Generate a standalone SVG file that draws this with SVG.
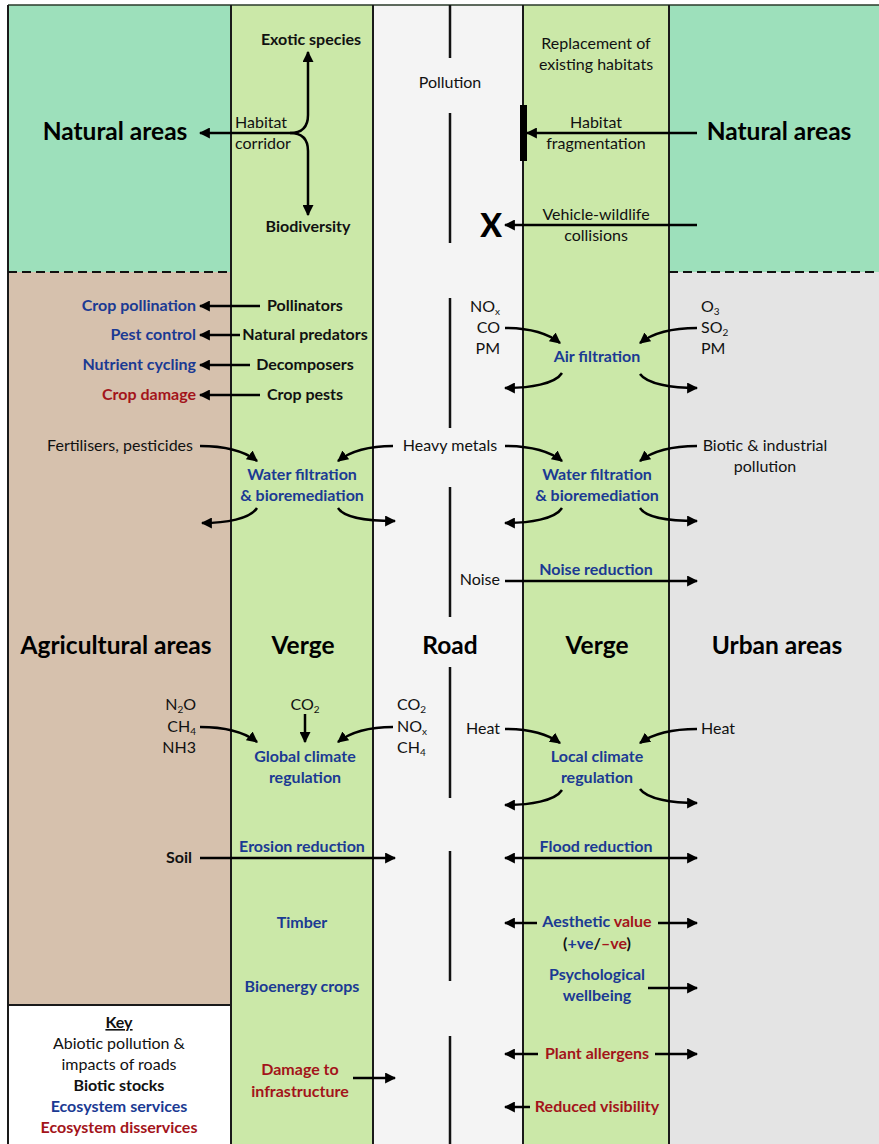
<svg xmlns="http://www.w3.org/2000/svg" width="879" height="1144" viewBox="0 0 879 1144">
<defs>
<marker id="ah" viewBox="0 0 10 10" refX="9" refY="5" markerWidth="11" markerHeight="11" markerUnits="userSpaceOnUse" orient="auto-start-reverse">
<path d="M0,0 L10,5 L0,10 z" fill="#000"/>
</marker>
<style>
text{font-family:Lato,"Liberation Sans",sans-serif;font-size:16px;fill:#111}
.b{font-weight:bold}
.c{text-anchor:middle}
.e{text-anchor:end}
.bl{fill:#1b3a93;font-weight:bold}
.rd{fill:#a3141a;font-weight:bold}
.t{font-size:24.5px;font-weight:bold;fill:#000}
.sub{font-size:10px}
.ar{fill:none;stroke:#000;stroke-width:2.5;marker-end:url(#ah)}
.ar2{fill:none;stroke:#000;stroke-width:2.5;marker-end:url(#ah);marker-start:url(#ah)}
.bd{stroke:#1a1a1a;stroke-width:2;fill:none}
</style>
</defs>
<g id="background">
<rect x="8" y="5" width="223" height="267" fill="#9de0bb"/>
<rect x="8" y="272" width="223" height="733" fill="#d6c1ad"/>
<rect x="8" y="1005" width="223" height="145" fill="#ffffff"/>
<rect x="231" y="5" width="142" height="1139" fill="#cbe8a8"/>
<rect x="373" y="5" width="150" height="1139" fill="#f4f4f4"/>
<rect x="523" y="5" width="146" height="1139" fill="#cbe8a8"/>
<rect x="669" y="5" width="210" height="267" fill="#9de0bb"/>
<rect x="669" y="272" width="210" height="872" fill="#e4e4e4"/>
<line x1="8" y1="5" x2="879" y2="5" stroke="#2a3a2a" stroke-width="1.5"/>
<line class="bd" x1="8" y1="5" x2="8" y2="1144"/>
<line class="bd" x1="231" y1="5" x2="231" y2="1144"/>
<line class="bd" x1="373" y1="5" x2="373" y2="1144"/>
<line class="bd" x1="523" y1="5" x2="523" y2="1144"/>
<line class="bd" x1="669" y1="5" x2="669" y2="1144"/>
<line class="bd" x1="8" y1="1005" x2="231" y2="1005"/>
<line x1="8" y1="272" x2="231" y2="272" stroke="#111" stroke-width="2" stroke-dasharray="9,5"/>
<line x1="669" y1="272" x2="879" y2="272" stroke="#111" stroke-width="2" stroke-dasharray="9,5"/>
<g stroke="#111" stroke-width="2.5">
<line x1="450" y1="5" x2="450" y2="58"/>
<line x1="450" y1="113" x2="450" y2="243"/>
<line x1="450" y1="298" x2="450" y2="428"/>
<line x1="450" y1="487" x2="450" y2="617"/>
<line x1="450" y1="667" x2="450" y2="798"/>
<line x1="450" y1="851" x2="450" y2="981"/>
<line x1="450" y1="1036" x2="450" y2="1144"/>
</g>
</g>
<g id="area-titles">
<text id="natural-left" class="t c" x="115" y="140">Natural areas</text>
<text id="natural-right" class="t c" x="779" y="140">Natural areas</text>
<text id="agricultural" class="t c" x="116" y="654">Agricultural areas</text>
<text id="verge-left" class="t c" x="303" y="654">Verge</text>
<text id="road" class="t c" x="450" y="654">Road</text>
<text id="verge-right" class="t c" x="597" y="654">Verge</text>
<text id="urban" class="t c" x="777" y="654">Urban areas</text>
</g>
<g id="nodes">
<g id="exotic"><text class="b c" x="311" y="45">Exotic species</text></g>
<g id="habitat-corridor"><text x="235" y="128">Habitat</text><text x="235" y="149">corridor</text></g>
<g id="biodiversity"><text class="b c" x="308" y="232">Biodiversity</text></g>
<g id="pollution"><text class="c" x="450" y="88">Pollution</text></g>
<g id="replacement"><text class="c" x="596" y="49">Replacement of</text><text class="c" x="596" y="70">existing habitats</text></g>
<g id="fragmentation"><text class="c" x="596" y="128">Habitat</text><text class="c" x="596" y="149">fragmentation</text><rect x="520" y="105" width="7" height="56" fill="#000"/></g>
<g id="collisions"><text class="c" x="596" y="220">Vehicle-wildlife</text><text class="c" x="596" y="241">collisions</text></g>
<g id="x-mark"><text class="c" x="491" y="237" style="font-size:32px;font-weight:900;fill:#000">X</text></g>

<g id="crop-pollination"><text class="bl e" x="196" y="311">Crop pollination</text></g>
<g id="pest-control"><text class="bl e" x="196" y="340">Pest control</text></g>
<g id="nutrient-cycling"><text class="bl e" x="196" y="370">Nutrient cycling</text></g>
<g id="crop-damage"><text class="rd e" x="196" y="400">Crop damage</text></g>
<g id="pollinators"><text class="b c" x="305" y="311">Pollinators</text></g>
<g id="natural-predators"><text class="b c" x="305" y="340">Natural predators</text></g>
<g id="decomposers"><text class="b c" x="305" y="370">Decomposers</text></g>
<g id="crop-pests"><text class="b c" x="305" y="400">Crop pests</text></g>

<g id="air-in-left"><text class="e" x="500" y="312">NO<tspan class="sub" dy="3">x</tspan></text><text class="e" x="500" y="333">CO</text><text class="e" x="500" y="354">PM</text></g>
<g id="air-in-right"><text x="701" y="312">O<tspan class="sub" dy="3">3</tspan></text><text x="701" y="333">SO<tspan class="sub" dy="3">2</tspan></text><text x="701" y="354">PM</text></g>
<g id="air-filtration"><text class="bl c" x="597" y="362">Air filtration</text></g>

<g id="fertilisers"><text class="e" x="193" y="451">Fertilisers, pesticides</text></g>
<g id="heavy-metals"><text class="c" x="450" y="451">Heavy metals</text></g>
<g id="biotic-pollution"><text class="c" x="765" y="451">Biotic &amp; industrial</text><text class="c" x="765" y="472">pollution</text></g>
<g id="water-left"><text class="bl c" x="302" y="480">Water filtration</text><text class="bl c" x="302" y="501">&amp; bioremediation</text></g>
<g id="water-right"><text class="bl c" x="597" y="480">Water filtration</text><text class="bl c" x="597" y="501">&amp; bioremediation</text></g>

<g id="noise"><text class="e" x="500" y="585">Noise</text></g>
<g id="noise-reduction"><text class="bl c" x="596" y="575">Noise reduction</text></g>

<g id="ghg-left"><text class="e" x="196" y="710">N<tspan class="sub" dy="3">2</tspan><tspan dy="-3">O</tspan></text><text class="e" x="196" y="732">CH<tspan class="sub" dy="3">4</tspan></text><text class="e" x="196" y="753">NH3</text></g>
<g id="co2-mid"><text class="c" x="305" y="710">CO<tspan class="sub" dy="3">2</tspan></text></g>
<g id="ghg-road"><text x="397" y="710">CO<tspan class="sub" dy="3">2</tspan></text><text x="397" y="732">NO<tspan class="sub" dy="3">x</tspan></text><text x="397" y="753">CH<tspan class="sub" dy="3">4</tspan></text></g>
<g id="global-climate"><text class="bl c" x="305" y="762">Global climate</text><text class="bl c" x="305" y="783">regulation</text></g>
<g id="heat-left"><text class="e" x="500" y="734">Heat</text></g>
<g id="heat-right"><text x="701" y="734">Heat</text></g>
<g id="local-climate"><text class="bl c" x="597" y="762">Local climate</text><text class="bl c" x="597" y="783">regulation</text></g>

<g id="soil"><text class="b e" x="192" y="863">Soil</text></g>
<g id="erosion"><text class="bl c" x="302" y="852">Erosion reduction</text></g>
<g id="flood"><text class="bl c" x="596" y="852">Flood reduction</text></g>
<g id="timber"><text class="bl c" x="302" y="928">Timber</text></g>
<g id="aesthetic"><text class="bl c" x="597" y="927">Aesthetic <tspan class="rd">value</tspan></text><text class="b c" x="597" y="949">(<tspan class="bl">+ve</tspan>/<tspan class="rd">–ve</tspan>)</text></g>
<g id="bioenergy"><text class="bl c" x="302" y="992">Bioenergy crops</text></g>
<g id="psychological"><text class="bl c" x="597" y="980">Psychological</text><text class="bl c" x="597" y="1001">wellbeing</text></g>
<g id="damage-infra"><text class="rd c" x="300" y="1075">Damage to</text><text class="rd c" x="300" y="1097">infrastructure</text></g>
<g id="allergens"><text class="rd c" x="597" y="1059">Plant allergens</text></g>
<g id="visibility"><text class="rd c" x="597" y="1112">Reduced visibility</text></g>

<g id="key">
<text class="b c" x="119" y="1028" text-decoration="underline">Key</text>
<text class="c" x="119" y="1049">Abiotic pollution &amp;</text>
<text class="c" x="119" y="1070">impacts of roads</text>
<text class="b c" x="119" y="1091">Biotic stocks</text>
<text class="bl c" x="119" y="1112">Ecosystem services</text>
<text class="rd c" x="119" y="1133">Ecosystem disservices</text>
</g>
</g>
<g id="connectors">
<path class="ar" d="M290,133 L200,133"/>
<path class="ar" d="M290,133 C302,133 308,127 308,115 L308,52"/>
<path class="ar" d="M290,133 C302,133 308,139 308,151 L308,215"/>
<path class="ar" d="M697,133 L527,133"/>
<path class="ar" d="M697,225 L505,225"/>

<path class="ar" d="M260,306 L200,306"/>
<path class="ar" d="M240,335 L200,335"/>
<path class="ar" d="M250,365 L200,365"/>
<path class="ar" d="M260,395 L200,395"/>

<path class="ar" d="M505,328 C528,328 546,332 560,343"/>
<path class="ar" d="M697,328 C674,328 654,332 640,343"/>
<path class="ar" d="M562,373 C555,384 530,388 505,388"/>
<path class="ar" d="M640,374 C647,384 672,388 697,388"/>

<path class="ar" d="M200,446 C223,446 243,450 257,461"/>
<path class="ar" d="M393,446 C370,446 352,450 338,461"/>
<path class="ar" d="M505,446 C528,446 548,450 562,461"/>
<path class="ar" d="M697,446 C674,446 654,450 640,461"/>
<path class="ar" d="M257,508 C250,519 226,523 202,523"/>
<path class="ar" d="M338,508 C345,519 370,521 395,521"/>
<path class="ar" d="M562,508 C555,519 530,523 505,523"/>
<path class="ar" d="M640,508 C647,519 672,521 697,521"/>

<path class="ar" d="M505,581 L697,581"/>

<path class="ar" d="M200,727 C223,727 243,731 257,742"/>
<path class="ar" d="M305,714 L305,742"/>
<path class="ar" d="M393,727 C370,727 352,731 338,742"/>
<path class="ar" d="M505,729 C528,729 546,733 560,743"/>
<path class="ar" d="M697,729 C674,729 654,733 640,743"/>
<path class="ar" d="M562,790 C555,801 530,805 505,805"/>
<path class="ar" d="M640,789 C647,799 672,803 697,803"/>

<path class="ar" d="M200,858 L395,858"/>
<path class="ar2" d="M505,858 L697,858"/>
<path class="ar" d="M537,923 L505,923"/>
<path class="ar" d="M658,923 L697,923"/>
<path class="ar" d="M648,988 L697,988"/>
<path class="ar" d="M353,1078 L395,1078"/>
<path class="ar" d="M538,1054 L505,1054"/>
<path class="ar" d="M655,1054 L697,1054"/>
<path class="ar" d="M530,1107 L505,1107"/>
</g>
</svg>
